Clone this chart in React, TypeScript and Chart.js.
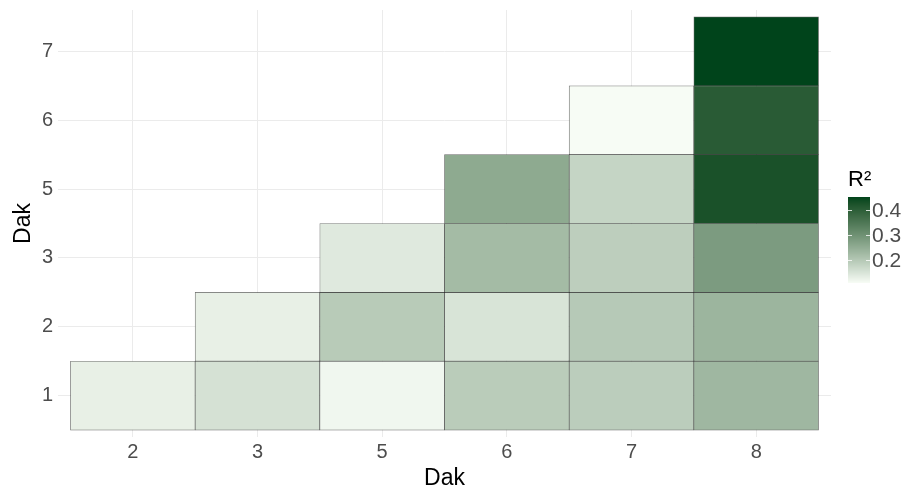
import React, { useEffect, useRef } from 'react';
import { Chart, registerables } from 'chart.js';

Chart.register(...registerables);

// ---- data ----
const xLabels = ['2', '3', '5', '6', '7', '8'];
const yLabels = ['1', '2', '3', '5', '6', '7'];
const r2Y1 = [0.129, 0.155, 0.117, 0.192, 0.19, 0.23];
const r2Y2 = [null, 0.129, 0.195, 0.15, 0.197, 0.234];
const r2Y3 = [null, null, 0.141, 0.223, 0.188, 0.281];
const r2Y5 = [null, null, null, 0.255, 0.176, 0.426];
const r2Y6 = [null, null, null, null, 0.108, 0.405];
const r2Y7 = [null, null, null, null, null, 0.452];
const r2Rows = [r2Y1, r2Y2, r2Y3, r2Y5, r2Y6, r2Y7];
const legendTicks = [0.2, 0.3, 0.4];
const axisTitle = 'Dak';
const legendTitle = 'R²';

const lowColor = '#F7FCF5';
const highColor = '#00441B';
const FONT = "'Liberation Sans', Arial, sans-serif";

// ---- colour helpers (Lab interpolation, like ggplot gradients) ----
function hexToRgb(h: string) {
  const n = parseInt(h.slice(1), 16);
  return [(n >> 16) & 255, (n >> 8) & 255, n & 255];
}
function toLin(c: number) {
  c /= 255;
  return c <= 0.04045 ? c / 12.92 : Math.pow((c + 0.055) / 1.055, 2.4);
}
function fromLin(c: number) {
  const v = c <= 0.0031308 ? 12.92 * c : 1.055 * Math.pow(c, 1 / 2.4) - 0.055;
  return Math.round(Math.max(0, Math.min(1, v)) * 255);
}
const Xn = 0.95047, Yn = 1, Zn = 1.08883;
const fL = (t: number) => (t > 0.008856 ? Math.cbrt(t) : 7.787 * t + 16 / 116);
const fInv = (t: number) => (t > 0.206893 ? t * t * t : (t - 16 / 116) / 7.787);
function rgbToLab(rgb: number[]) {
  const R = toLin(rgb[0]), G = toLin(rgb[1]), B = toLin(rgb[2]);
  const X = 0.4124 * R + 0.3576 * G + 0.1805 * B;
  const Y = 0.2126 * R + 0.7152 * G + 0.0722 * B;
  const Z = 0.0193 * R + 0.1192 * G + 0.9505 * B;
  const fx = fL(X / Xn), fy = fL(Y / Yn), fz = fL(Z / Zn);
  return [116 * fy - 16, 500 * (fx - fy), 200 * (fy - fz)];
}
function labToRgb(lab: number[]) {
  const fy = (lab[0] + 16) / 116;
  const fx = fy + lab[1] / 500;
  const fz = fy - lab[2] / 200;
  const X = Xn * fInv(fx), Y = Yn * fInv(fy), Z = Zn * fInv(fz);
  const R = 3.2406 * X - 1.5372 * Y - 0.4986 * Z;
  const G = -0.9689 * X + 1.8758 * Y + 0.0415 * Z;
  const B = 0.0557 * X - 0.204 * Y + 1.057 * Z;
  return [fromLin(R), fromLin(G), fromLin(B)];
}
const labLow = rgbToLab(hexToRgb(lowColor));
const labHigh = rgbToLab(hexToRgb(highColor));
const allVals = r2Rows.flat().filter((v) => v !== null) as number[];
const vMin = Math.min(...allVals);
const vMax = Math.max(...allVals);
function colorFor(v: number) {
  const t = Math.max(0, Math.min(1, (v - vMin) / (vMax - vMin)));
  const lab = labLow.map((l, i) => l + (labHigh[i] - l) * t);
  const c = labToRgb(lab);
  return `rgb(${c[0]},${c[1]},${c[2]})`;
}

// ---- legend plugin (colour bar) ----
const colorbarPlugin = {
  id: 'colorbar',
  afterDraw(chart: any) {
    const ctx = chart.ctx;
    const left = 848;
    const w = 22;
    const top = 197;
    const bottom = 283;
    ctx.save();
    for (let y = top; y < bottom; y++) {
      const v = vMax - ((y + 0.5 - top) / (bottom - top)) * (vMax - vMin);
      ctx.fillStyle = colorFor(v);
      ctx.fillRect(left, y, w, 1);
    }
    ctx.font = `21px ${FONT}`;
    ctx.textBaseline = 'middle';
    ctx.textAlign = 'left';
    legendTicks.forEach((t) => {
      const y = bottom - ((t - vMin) / (vMax - vMin)) * (bottom - top);
      ctx.strokeStyle = 'rgba(255,255,255,0.8)';
      ctx.lineWidth = 1;
      ctx.beginPath();
      ctx.moveTo(left, Math.round(y) + 0.5);
      ctx.lineTo(left + 4, Math.round(y) + 0.5);
      ctx.moveTo(left + w - 4, Math.round(y) + 0.5);
      ctx.lineTo(left + w, Math.round(y) + 0.5);
      ctx.stroke();
      ctx.fillStyle = '#4D4D4D';
      ctx.fillText(t.toFixed(1), left + w + 2, y + 1);
    });
    ctx.fillStyle = '#000000';
    ctx.font = `22px ${FONT}`;
    ctx.fillText(legendTitle, left, 180);
    ctx.restore();
  },
};

export default function App() {
  const ref = useRef<HTMLCanvasElement | null>(null);
  useEffect(() => {
    document.body.style.margin = '0';
    const cells: any[] = [];
    r2Rows.forEach((row, ri) => {
      row.forEach((v, ci) => {
        if (v !== null) cells.push({ x: ci, y: [ri - 0.5, ri + 0.5], v });
      });
    });
    const chart = new Chart(ref.current as HTMLCanvasElement, {
      type: 'bar',
      data: {
        datasets: [
          {
            data: cells,
            backgroundColor: (c: any) => (c.raw ? colorFor(c.raw.v) : 'transparent'),
            borderColor: 'rgba(0,0,0,0.6)',
            borderWidth: 0.7,
            borderSkipped: false,
            barPercentage: 1,
            categoryPercentage: 1,
          } as any,
        ],
      },
      plugins: [colorbarPlugin],
      options: {
        animation: false,
        responsive: false,
        devicePixelRatio: 1,
        events: [],
        layout: { padding: { top: 10, right: 75, left: 10, bottom: -2 } },
        plugins: { legend: { display: false }, tooltip: { enabled: false } },
        scales: {
          x: {
            type: 'linear',
            min: -0.6,
            max: 5.6,
            offset: false,
            afterBuildTicks: (axis: any) => {
              axis.ticks = xLabels.map((_, i) => ({ value: i }));
            },
            afterFit: (axis: any) => {
              axis.height = 55;
              axis.paddingLeft = 0;
              axis.paddingRight = 0;
            },
            ticks: {
              callback: (v: any) => xLabels[Math.round(Number(v))] ?? '',
              font: { family: FONT, size: 20 },
              color: '#4D4D4D',
              padding: 3,
              maxRotation: 0,
              autoSkip: false,
            },
            grid: { color: '#EBEBEB', lineWidth: 1, drawTicks: false, offset: false },
            border: { display: false },
            title: {
              display: true,
              text: axisTitle,
              font: { family: FONT, size: 23 },
              color: '#000000',
              padding: { top: 0, bottom: 0 },
            },
          },
          y: {
            type: 'linear',
            min: -0.6,
            max: 5.6,
            afterBuildTicks: (axis: any) => {
              axis.ticks = yLabels.map((_, i) => ({ value: i }));
            },
            afterFit: (axis: any) => {
              axis.width = 48;
              axis.paddingTop = 0;
              axis.paddingBottom = 0;
            },
            ticks: {
              callback: (v: any) => yLabels[Math.round(Number(v))] ?? '',
              font: { family: FONT, size: 20 },
              color: '#4D4D4D',
              padding: 5,
              autoSkip: false,
            },
            grid: { color: '#EBEBEB', lineWidth: 1, drawTicks: false },
            border: { display: false },
            title: {
              display: true,
              text: axisTitle,
              font: { family: FONT, size: 23 },
              color: '#000000',
              padding: { top: 0, bottom: 0 },
            },
          },
        },
      } as any,
    });
    return () => chart.destroy();
  }, []);
  return (
    <div style={{ width: 906, height: 490, position: 'relative' }}>
      <canvas ref={ref} width={906} height={490} style={{ width: 906, height: 490 }} />
    </div>
  );
}
